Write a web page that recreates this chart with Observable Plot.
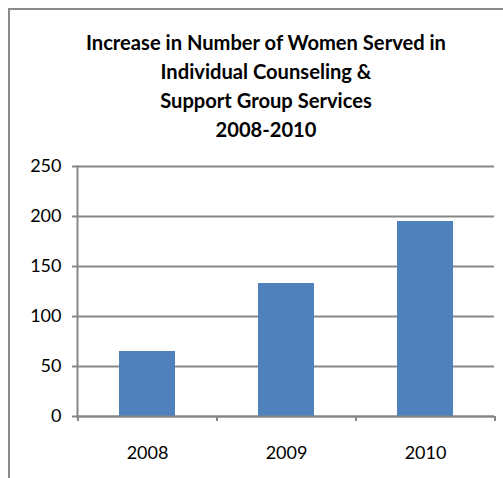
<!DOCTYPE html>
<html>
<head>
<meta charset="utf-8">
<script src="https://cdn.jsdelivr.net/npm/d3@7"></script>
<script src="https://cdn.jsdelivr.net/npm/@observablehq/plot@0.6"></script>
<style>
  html, body { margin: 0; padding: 0; background: #fff; }
  body { width: 503px; height: 478px; overflow: hidden; position: relative; font-family: Lato, "Open Sans", sans-serif; }
  #frame { position: absolute; left: 8px; top: 8px; width: 700px; height: 700px; border-left: 2px solid #8a8a8a; border-top: 2px solid #8a8a8a; box-sizing: border-box; }
  #title { position: absolute; left: 0; top: 28px; width: 532px; text-align: center; font-weight: bold; font-size: 20.5px; line-height: 29px; color: #000; transform-origin: 266px 0; }
  #title span { white-space: nowrap; }
  #chart { position: absolute; left: 0; top: 0; }
</style>
</head>
<body>
<div id="frame"></div>
<div id="title"></div>
<div id="chart"></div>
<script>
const titleLines = [
  "Increase in Number of Women Served in",
  "Individual Counseling &",
  "Support Group Services",
  "2008-2010"
];
const years = ["2008", "2009", "2010"];
const women = [65, 133, 195];
const yTicks = [0, 50, 100, 150, 200, 250];

const data = years.map((year, i) => ({year, value: women[i]}));

// title
const titleEl = document.getElementById("title");
titleLines.forEach(t => {
  const d = document.createElement("div");
  const s = document.createElement("span");
  s.textContent = t;
  d.appendChild(s);
  titleEl.appendChild(d);
});
const firstSpan = titleEl.querySelector("span");
const w = firstSpan.getBoundingClientRect().width;
const k = 360 / w;
titleEl.style.transform = `scaleX(${k})`;

const W = 503, H = 478, ML = 77, MR = 9, MT = 166, MB = 62;
const step = (W - ML - MR) / years.length;
const gray = "#878787";

const chart = Plot.plot({
  width: W,
  height: H,
  marginLeft: ML,
  marginRight: MR,
  marginTop: MT,
  marginBottom: MB,
  style: {fontFamily: "Lato, 'Open Sans', sans-serif", fontSize: "18px", color: "#000", background: "transparent", overflow: "visible"},
  x: {domain: years, paddingInner: 0.6, paddingOuter: 0.3, label: null},
  y: {domain: [0, 250], ticks: yTicks, label: null},
  marks: [
    Plot.gridY(yTicks, {stroke: gray, strokeOpacity: 1, strokeWidth: 2}),
    Plot.barY(data, {x: "year", y: "value", fill: "#4f81bd"}),
    Plot.ruleY([0], {stroke: gray, strokeWidth: 2}),
    Plot.frame({anchor: "left", stroke: gray, strokeWidth: 2}),
    Plot.ruleX(years, {x: d => d, dx: -step / 2, y1: 0, y2: -5, stroke: gray, strokeWidth: 2}),
    Plot.ruleX([years[years.length - 1]], {x: d => d, dx: step / 2, y1: 0, y2: -5, stroke: gray, strokeWidth: 2}),
    Plot.axisY(yTicks, {tickSize: 5, tickPadding: 11, stroke: gray, strokeWidth: 2, fill: "#000", label: null}),
    Plot.axisX({tickSize: 0, tickPadding: 30, fill: "#000", label: null})
  ]
});
document.getElementById("chart").appendChild(chart);
</script>
</body>
</html>
